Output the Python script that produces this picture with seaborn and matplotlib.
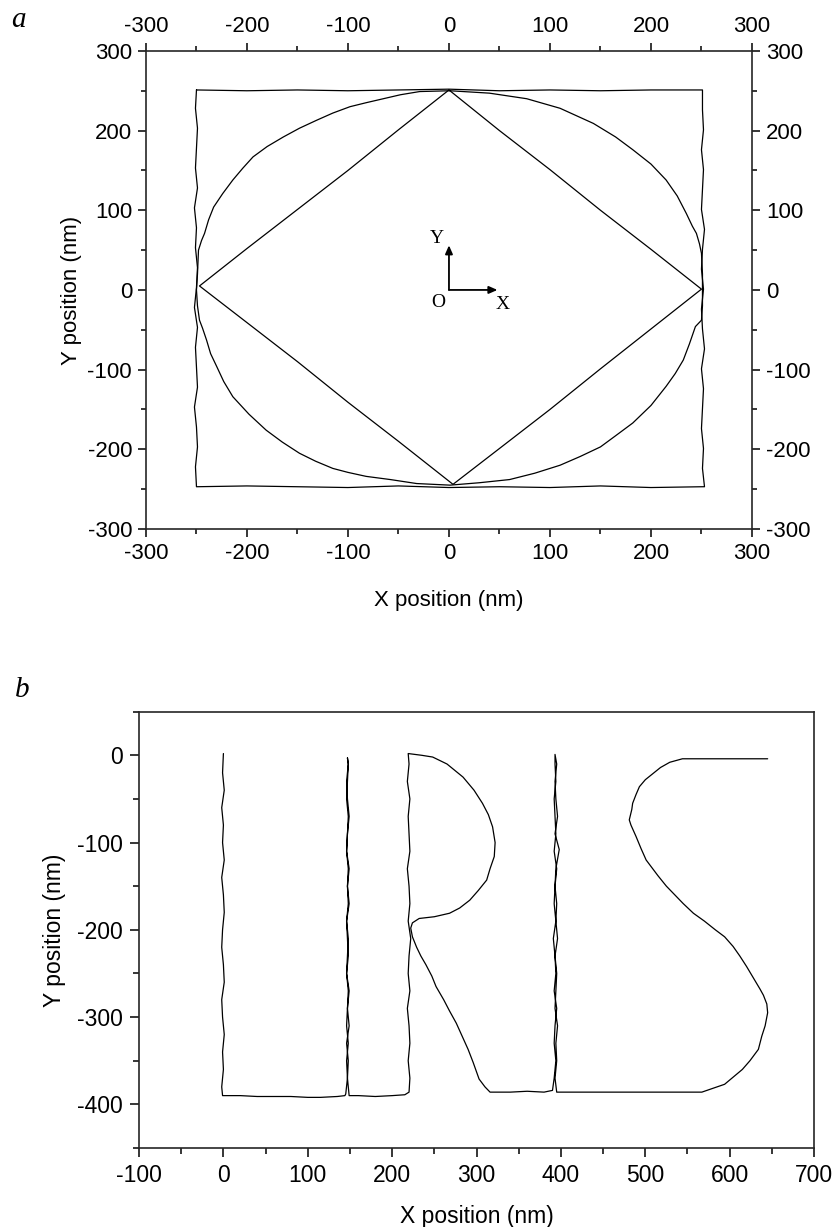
import numpy as np
import pandas as pd
import matplotlib
matplotlib.use("Agg")
import matplotlib.pyplot as plt
from matplotlib.ticker import MultipleLocator
import seaborn as sns

# ---------------- Data: panel a ----------------
square_x = [-250, -200, -150, -100, -50, 0, 50, 100, 150, 200, 251,
            251, 252, 250, 252, 251, 250, 253, 251, 250, 252, 250, 251, 253, 250, 252, 251, 250, 252, 251, 253, 251,
            200, 150, 100, 50, 0, -50, -100, -150, -200, -250,
            -251, -249, -250, -252, -249, -250, -251, -249, -252, -250, -249, -251, -250, -252, -249, -251, -250, -249, -251, -250]
square_y = [251, 250, 251, 250, 251, 252, 250, 251, 250, 251, 251,
            226, 201, 176, 151, 126, 101, 76, 51, 26, 1, -24, -49, -74, -99, -124, -149, -174, -199, -224, -247, -247,
            -248, -246, -248, -247, -248, -246, -248, -247, -246, -247,
            -222, -197, -172, -147, -122, -97, -72, -47, -22, 3, 28, 53, 78, 103, 128, 153, 178, 203, 228, 251]

circle_x = [1, 40, 77, 110, 143, 165, 182, 200, 215, 226, 235, 241, 245, 248, 250, 251, 251, 251, 250, 244,
            238, 232, 224, 215, 200, 182, 165, 150, 130, 110, 85, 60, 30, 1, -32, -58, -82, -100, -115, -132,
            -148, -165, -181, -198, -214, -223, -230, -236, -240, -244, -247, -249, -250, -249, -248, -245, -242,
            -238, -233, -224, -214, -204, -194, -180, -164, -148, -131, -115, -98, -82, -65, -48, -29, 1]
circle_y = [250, 247, 240, 228, 209, 192, 176, 158, 138, 118, 96, 80, 71, 58, 46, 20, 0, -20, -38, -46,
            -68, -88, -105, -121, -145, -167, -183, -197, -209, -220, -230, -238, -242, -245, -243, -238, -234, -229, -224, -215,
            -205, -191, -176, -156, -134, -115, -96, -80, -63, -48, -38, -20, 0, 20, 50, 62, 71,
            88, 104, 121, 138, 153, 167, 180, 192, 203, 213, 222, 230, 235, 240, 245, 249, 250]

diamond_x = [0, 50, 100, 150, 200, 250, 200, 150, 100, 50, 4, -50, -100, -150, -200, -247, -200, -150, -100, -50, 0]
diamond_y = [251, 200, 151, 100, 51, 1, -49, -99, -150, -199, -244, -190, -141, -90, -41, 5, 52, 101, 150, 201, 251]

# ---------------- Data: panel b (LIRIS trace) ----------------
L_x = [0, -1, 1, -2, 0, -1, 1, -2, 0, 1, -1, -2, 0, 1, -2, -1, 1, -1, 0, -2, -1,
       20, 40, 60, 80, 100, 115, 135, 144]
L_y = [2, -20, -40, -60, -80, -100, -120, -140, -160, -180, -200, -220, -240, -260, -280, -300, -320, -340, -360, -380, -390,
       -390, -391, -391, -391, -392, -392, -391, -390]

I1_x = [145, 147, 146, 148, 146, 147, 149, 146, 148, 147, 146, 148, 147, 149, 146, 147, 148, 146, 147, 148, 147,
        148, 146, 147, 149, 147, 146, 148, 147, 149, 146, 148, 147, 146, 148, 147, 149, 146, 148, 147, 149,
        160, 180, 200, 215, 220]
I1_y = [-388, -370, -350, -330, -310, -290, -270, -250, -230, -210, -190, -170, -150, -130, -110, -90, -70, -50, -30, -10, -3,
        -10, -30, -50, -70, -90, -110, -130, -150, -170, -190, -210, -230, -250, -270, -290, -310, -330, -350, -370, -390,
        -390, -391, -390, -389, -386]

R_x = [221, 219, 221, 220, 218, 221, 219, 220, 222, 219, 221, 220, 218, 221, 220, 219, 221, 218, 220, 219,
       235, 248, 265, 284, 297, 307, 314, 319, 322, 321, 316, 312, 302, 292, 280, 268, 250, 232, 224, 222,
       224, 229, 234, 240, 247, 252, 261, 268, 276, 283, 290, 296, 303, 310, 316,
       340, 360, 380, 390]
R_y = [-370, -350, -330, -310, -290, -270, -250, -230, -210, -190, -170, -150, -130, -110, -90, -70, -50, -30, -10, 2,
       0, -2, -10, -25, -40, -55, -68, -82, -100, -116, -130, -143, -155, -166, -175, -181, -185, -187, -192, -198,
       -208, -220, -230, -240, -253, -265, -280, -293, -307, -322, -337, -352, -371, -380, -386,
       -386, -385, -386, -384]

I2_x = [392, 394, 392, 393, 395, 392, 394, 393, 391, 394, 392, 393, 395, 392, 394, 393, 392, 394, 393, 393,
        395, 393, 394, 396, 393, 398, 394, 393, 395, 394, 396, 393, 395, 394, 393, 396, 394, 395, 393, 395,
        420, 450, 480, 510, 540, 567]
I2_y = [-370, -350, -330, -310, -290, -270, -250, -230, -210, -190, -170, -150, -130, -110, -90, -70, -50, -30, -10, 1,
        -10, -30, -50, -70, -90, -108, -130, -150, -170, -190, -210, -230, -250, -270, -290, -310, -330, -350, -370, -386,
        -386, -386, -386, -386, -386, -386]

S_x = [594, 615, 624, 634, 638, 642, 645, 644, 640, 636, 628, 620, 612, 604, 594, 583, 570, 557, 545, 535,
       525, 515, 501, 495, 489, 483, 481, 484, 485, 489, 493, 500, 509, 518, 529, 544, 580, 620, 645]
S_y = [-377, -360, -350, -337, -322, -310, -295, -285, -275, -268, -255, -242, -230, -219, -208, -200, -190, -181, -170, -160,
       -150, -138, -120, -107, -93, -80, -74, -62, -55, -45, -36, -28, -21, -14, -8, -4, -4, -4, -4]

# ---------------- Figure ----------------
sns.set_style("ticks")
plt.rcParams["font.family"] = ["Liberation Sans", "DejaVu Sans"]
plt.rcParams["axes.linewidth"] = 1.2
plt.rcParams["axes.unicode_minus"] = False
plt.rcParams["axes.labelcolor"] = "black"
plt.rcParams["text.color"] = "black"

fig = plt.figure(figsize=(8.37, 12.27), dpi=100)
axa = fig.add_axes([0.1744, 0.5689, 0.724, 0.3896])
axb = fig.add_axes([0.1661, 0.0644, 0.8065, 0.3556])

lw = 0.9
for xs, ys in [(square_x, square_y), (circle_x, circle_y), (diamond_x, diamond_y)]:
    df = pd.DataFrame({"x": xs, "y": ys})
    sns.lineplot(data=df, x="x", y="y", sort=False, estimator=None, color="black",
                 linewidth=lw, ax=axa)

axa.set_xlim(-300, 300)
axa.set_ylim(-300, 300)
axa.xaxis.set_major_locator(MultipleLocator(100))
axa.yaxis.set_major_locator(MultipleLocator(100))
axa.xaxis.set_minor_locator(MultipleLocator(50))
axa.yaxis.set_minor_locator(MultipleLocator(50))
axa.tick_params(which="both", direction="out", top=True, right=True, bottom=True, left=True,
                labeltop=True, labelright=True, labelsize=16, width=1.1, colors="black", pad=4)
axa.tick_params(which="major", length=6)
axa.tick_params(which="minor", length=3.5)
axa.set_xlabel("X position (nm)", fontsize=16, labelpad=19)
axa.set_ylabel("Y position (nm)", fontsize=16, labelpad=4)
for s in axa.spines.values():
    s.set_visible(True)
    s.set_linewidth(1.2)

# coordinate inset
arrow_kw = dict(arrowstyle="-|>,head_length=0.5,head_width=0.22", color="black", lw=1.3, shrinkA=0, shrinkB=0)
axa.annotate("", xy=(0, 56), xytext=(0, 0), arrowprops=arrow_kw)
axa.annotate("", xy=(48, 0), xytext=(0, 0), arrowprops=arrow_kw)
axa.text(-12, 64, "Y", family="Liberation Serif", fontsize=14, ha="center", va="center")
axa.text(-11, -16, "O", family="Liberation Serif", fontsize=14, ha="center", va="center")
axa.text(53, -18, "X", family="Liberation Serif", fontsize=14, ha="center", va="center")

# panel b
bx = L_x + I1_x + R_x + I2_x + S_x
by = L_y + I1_y + R_y + I2_y + S_y
dfb = pd.DataFrame({"x": bx, "y": by})
sns.lineplot(data=dfb, x="x", y="y", sort=False, estimator=None, color="black", linewidth=lw, ax=axb)
axb.set_xlim(-100, 700)
axb.set_ylim(-450, 50)
axb.xaxis.set_major_locator(MultipleLocator(100))
axb.yaxis.set_major_locator(MultipleLocator(100))
axb.xaxis.set_minor_locator(MultipleLocator(50))
axb.yaxis.set_minor_locator(MultipleLocator(50))
axb.tick_params(which="both", direction="out", top=False, right=False, labelsize=16.5,
                width=1.1, colors="black", pad=5)
axb.tick_params(which="major", length=6.5)
axb.tick_params(which="minor", length=4)
axb.set_xlabel("X position (nm)", fontsize=16.5, labelpad=13)
axb.set_ylabel("Y position (nm)", fontsize=16.5, labelpad=8)
for s in axb.spines.values():
    s.set_visible(True)
    s.set_linewidth(1.2)

fig.text(18 / 837, 1 - 20 / 1227, "a", family="Liberation Serif", style="italic", fontsize=21,
         ha="center", va="center")
fig.text(22 / 837, 1 - 690 / 1227, "b", family="Liberation Serif", style="italic", fontsize=21,
         ha="center", va="center")

fig.savefig("out.png", dpi=100, facecolor="white")
